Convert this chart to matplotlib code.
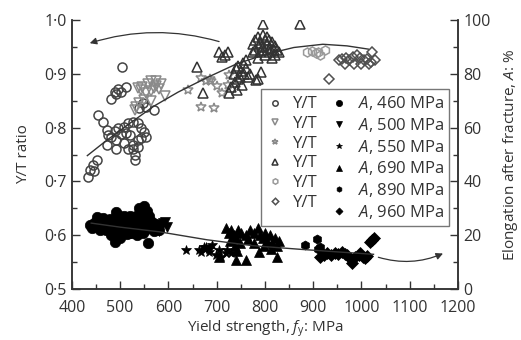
import matplotlib
matplotlib.use("Agg")
import matplotlib.pyplot as plt
from matplotlib.ticker import MultipleLocator, FuncFormatter

plt.rcParams['font.family'] = ['Open Sans', 'DejaVu Sans']
plt.rcParams['mathtext.fontset'] = 'custom'
plt.rcParams['mathtext.rm'] = 'Open Sans'
plt.rcParams['mathtext.it'] = 'Open Sans:italic'

# ---- Y/T ratio data (left axis) ----
yt460_x = [504, 481, 489, 495, 502, 513, 492,
           454, 465, 472, 475, 472, 482, 492, 492, 502, 509, 516, 526, 537, 544,
           550, 554, 544, 537, 526, 516, 509, 526, 537, 530, 530, 520, 513, 495,
           490, 547, 554, 571, 540,
           437, 444, 451, 433, 446]
yt460_y = [0.912, 0.853, 0.867, 0.871, 0.867, 0.876, 0.862,
           0.823, 0.811, 0.796, 0.786, 0.768, 0.783, 0.777, 0.761, 0.789, 0.802,
           0.808, 0.811, 0.808, 0.799, 0.792, 0.783, 0.780, 0.777, 0.768, 0.761,
           0.771, 0.761, 0.764, 0.749, 0.740, 0.786, 0.790, 0.799, 0.793,
           0.845, 0.839, 0.833, 0.836,
           0.721, 0.730, 0.740, 0.709, 0.720]

yt500_x = [537, 546, 557, 564, 574, 584, 571, 564, 553, 592, 574, 533, 540, 530, 550, 564, 544, 580]
yt500_y = [0.873, 0.876, 0.882, 0.887, 0.887, 0.882, 0.874, 0.868, 0.865, 0.859,
           0.878, 0.839, 0.845, 0.832, 0.851, 0.849, 0.870, 0.872]

yt550_x = [640, 667, 677, 688, 667, 695, 712, 723, 726, 687, 700]
yt550_y = [0.870, 0.893, 0.886, 0.887, 0.839, 0.836, 0.864, 0.880, 0.898, 0.890, 0.878]

yt690_x = [775, 780, 785, 790, 795, 800, 805, 810, 815, 820, 825, 780, 790, 800, 810,
           820, 830, 795, 805, 775, 785, 815, 788, 798, 808, 818,
           796, 873, 705, 711, 724, 717,
           735, 740, 745, 750, 755, 760, 748, 738, 730, 742, 752, 765, 770, 791, 785,
           725, 760, 660, 671, 781, 745, 756]
yt690_y = [0.955, 0.962, 0.968, 0.958, 0.950, 0.962, 0.955, 0.948, 0.960, 0.952, 0.945,
           0.945, 0.940, 0.935, 0.940, 0.935, 0.940, 0.972, 0.968, 0.940, 0.930, 0.930,
           0.952, 0.944, 0.962, 0.944,
           0.993, 0.993, 0.941, 0.932, 0.940, 0.935,
           0.900, 0.910, 0.915, 0.905, 0.920, 0.910, 0.895, 0.885, 0.875, 0.870, 0.880,
           0.895, 0.900, 0.904, 0.890, 0.865, 0.925, 0.912, 0.864, 0.888, 0.890, 0.900]

yt890_x = [887, 897, 911, 925, 915, 905]
yt890_y = [0.941, 0.943, 0.941, 0.944, 0.935, 0.938]

yt960_x = [953, 960, 968, 975, 982, 990, 998, 1005, 1012, 1020, 1028, 965, 985, 1000, 1015, 1021, 932]
yt960_y = [0.925, 0.928, 0.930, 0.925, 0.932, 0.935, 0.930, 0.925, 0.928, 0.922, 0.925,
           0.918, 0.918, 0.918, 0.918, 0.941, 0.890]

# trend line of Y/T
yt_line_x = [432, 470, 520, 570, 620, 680, 740, 800, 860, 920, 970, 1014]
yt_line_y = [0.748, 0.775, 0.808, 0.840, 0.866, 0.893, 0.918, 0.936, 0.949, 0.955, 0.952, 0.946]

# ---- elongation data (right axis, %) ----
a460_x = [437, 451, 458, 445, 472, 481, 489, 492, 495, 503, 510, 520, 530, 540, 550, 557,
          560, 545, 535, 525, 515, 505, 500, 490, 480, 470, 465, 485, 512, 522, 532, 542,
          552, 562, 570, 555, 548, 538, 528, 518, 508, 498, 478, 468, 455, 547, 565, 575, 580,
          442, 462, 476, 486, 496, 506, 516, 526, 536, 546, 556, 566, 520, 530, 510, 500]
a460_y = [23.8, 26.9, 22, 24.5, 25.6, 20, 17.6, 28.7, 27.5, 24, 22, 25, 23, 30, 31, 17.2,
          27, 26, 20, 21, 20.5, 21, 19, 23, 24, 22, 26.5, 21, 25.5, 23, 27, 24,
          22, 23, 21.5, 29, 28, 22, 25, 21, 27, 25, 26, 24, 25, 21, 25, 24, 22,
          22.5, 24, 23, 25, 22, 24, 23.5, 22, 25, 24.5, 25.5, 23.5, 27, 21, 23, 26]

a500_x = [574, 584, 588, 593, 598, 580]
a500_y = [22.6, 23.5, 24.4, 24.8, 23, 21.5]

a550_x = [636, 664, 667, 677, 684, 691, 698, 705, 709, 719, 722, 729, 685, 674]
a550_y = [14.4, 14.6, 13.8, 15.7, 15, 16.5, 12.6, 14.5, 12, 13.5, 14.5, 13.5, 13.9, 15.7]

a690_x = [719, 725, 730, 735, 740, 745, 750, 728, 738, 742, 748, 740, 705, 760,
          770, 778, 785, 790, 795, 800, 805, 810, 815, 820, 825, 830, 788, 825, 798,
          812, 778, 760, 765]
a690_y = [22.7, 21, 22, 20, 19, 22, 21, 18, 16, 14, 17, 10.8, 12, 10.8,
          22, 21, 22.7, 20, 19, 21, 18, 20, 17, 19, 16, 18, 13.9, 12, 16,
          15, 17, 20, 18.5]

a890_x = [884, 908, 911, 915]
a890_y = [16.4, 18.5, 14.8, 15.5]

a960_x = [915, 922, 929, 937, 945, 952, 959, 965, 970, 976, 981, 987, 994, 997, 1003,
          1007, 1012, 1021, 1025, 1018]
a960_y = [11.8, 12.5, 13.3, 12.8, 13.5, 13, 13.9, 13, 12.6, 11.5, 9.6, 12, 12.5, 13.3, 12,
          11.4, 12.2, 18.2, 18.8, 17.5]

a_line_x = [440, 500, 580, 680, 775, 870, 950, 1025]
a_line_y = [24.5, 23, 21.3, 18.3, 16.1, 14.8, 13.8, 12.9]

grades = ['460', '500', '550', '690', '890', '960']
markers = ['o', 'v', '*', '^', 'h', 'D']
yt_colors = ['#444444', '#8a8a8a', '#8a8a8a', '#333333', '#9a9a9a', '#505050']
yt_sizes = [6.5, 6.5, 7, 7, 6.5, 5.5]
a_sizes = [7.5, 6.5, 7, 7, 6.5, 6]

yt_data = [(yt460_x, yt460_y), (yt500_x, yt500_y), (yt550_x, yt550_y),
           (yt690_x, yt690_y), (yt890_x, yt890_y), (yt960_x, yt960_y)]
a_data = [(a460_x, a460_y), (a500_x, a500_y), (a550_x, a550_y),
          (a690_x, a690_y), (a890_x, a890_y), (a960_x, a960_y)]

dark = '#333333'
fig = plt.figure(figsize=(5.21, 3.40), dpi=100)
ax = fig.add_axes([0.138, 0.15, 0.741, 0.791])
ax2 = ax.twinx()

yt_handles = []
for (xs, ys), m, c, ms in zip(yt_data, markers, yt_colors, yt_sizes):
    h, = ax.plot(xs, ys, ls='none', marker=m, ms=ms, mfc='none', mec=c, mew=1.1)
    yt_handles.append(h)
ax.plot(yt_line_x, yt_line_y, color=dark, lw=1.0)

a_handles = []
for (xs, ys), m, ms in zip(a_data, markers, a_sizes):
    h, = ax2.plot(xs, ys, ls='none', marker=m, ms=ms, mfc='black', mec='black', mew=0.5)
    a_handles.append(h)
ax2.plot(a_line_x, a_line_y, color=dark, lw=1.0)

# arrows pointing to the axis each curve belongs to
ax.annotate('', xy=(437, 0.957), xytext=(705, 0.960),
            arrowprops=dict(arrowstyle='-|>', color=dark, lw=0.9, mutation_scale=10,
                            shrinkA=0, shrinkB=0, connectionstyle='arc3,rad=0.15'))
ax2.annotate('', xy=(1169, 13.2), xytext=(1035, 11.8),
             arrowprops=dict(arrowstyle='-|>', color=dark, lw=0.9, mutation_scale=10,
                             shrinkA=0, shrinkB=0, connectionstyle='arc3,rad=0.18'))

ax.set_xlim(400, 1200)
ax.set_ylim(0.5, 1.0)
ax2.set_ylim(0, 100)

ax.xaxis.set_major_locator(MultipleLocator(100))
ax.xaxis.set_minor_locator(MultipleLocator(50))
ax.yaxis.set_major_locator(MultipleLocator(0.1))
ax.yaxis.set_minor_locator(MultipleLocator(0.05))
ax.yaxis.set_major_formatter(FuncFormatter(lambda v, p: ('%.1f' % v).replace('.', '\u00b7')))
ax2.yaxis.set_major_locator(MultipleLocator(20))
ax2.yaxis.set_minor_locator(MultipleLocator(10))

for a in (ax, ax2):
    a.tick_params(which='both', direction='in', colors=dark, labelsize=11.5, width=1.0)
    a.tick_params(which='major', length=6)
    a.tick_params(which='minor', length=3.5)
    a.spines['top'].set_visible(False)
    for s in ('left', 'right', 'bottom'):
        a.spines[s].set_color(dark)
        a.spines[s].set_linewidth(1.1)
ax.tick_params(axis='x', pad=8)
ax2.tick_params(axis='y', pad=4)

ax.set_xlabel('Yield strength, $f_\\mathrm{y}$: MPa', fontsize=11, color=dark, labelpad=2)
ax.set_ylabel('Y/T ratio', fontsize=11, color=dark, labelpad=10)
ax2.set_ylabel('Elongation after fracture, $A$: %', fontsize=11, color=dark, labelpad=7)

labels = ['Y/T'] * 6 + ['$A$, %s MPa' % g for g in grades]
leg = ax2.legend(yt_handles + a_handles, labels, ncol=2, loc='upper right',
                 bbox_to_anchor=(0.977, 0.742), fontsize=12, markerscale=0.6,
                 handlelength=1.0, handletextpad=0.6, columnspacing=0.8,
                 labelspacing=0.22, borderpad=0.3, frameon=True, fancybox=False,
                 borderaxespad=0)
leg.get_frame().set_edgecolor('#555555')
leg.get_frame().set_linewidth(1.0)
for t in leg.get_texts():
    t.set_color(dark)

fig.savefig('out.png', dpi=100)
